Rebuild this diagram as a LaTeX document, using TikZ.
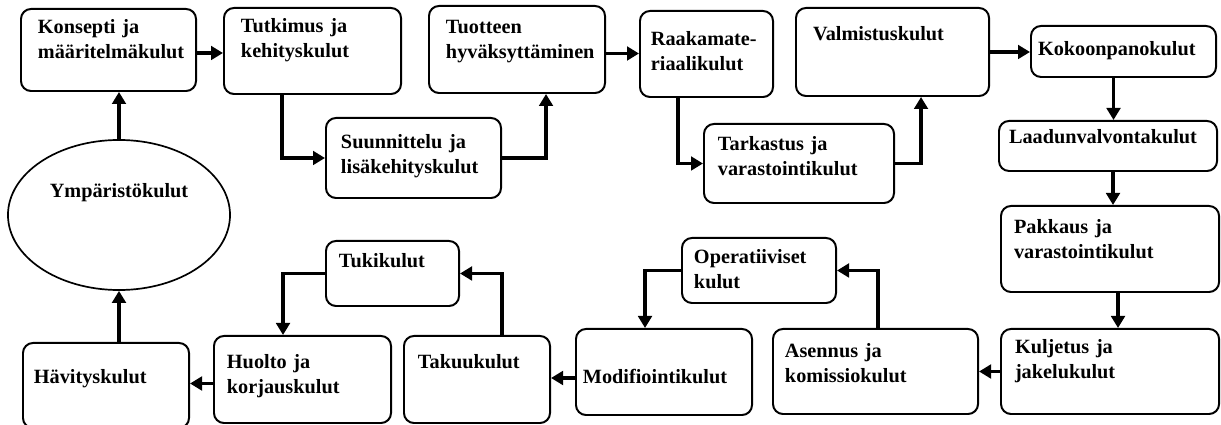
\documentclass[tikz,border=0pt]{standalone}
\usepackage{fontspec}
\setmainfont{Liberation Serif}
\usetikzlibrary{arrows.meta, shapes.geometric, calc}
\hyphenpenalty=10000

\begin{document}
\begin{tikzpicture}[
    x=0.025cm, y=-0.025cm,
    >={Triangle[length=0.3cm, width=0.34cm]},
    font=\fontsize{14.4pt}{17.1pt}\selectfont\bfseries,
    cost/.style={
        draw, line width=1.4pt, rounded corners=0.25cm, fill=white,
        anchor=north west, align=left, inner ysep=0pt
    },
    env/.style={
        draw, ellipse, line width=1.2pt, minimum width=5.55cm, minimum height=3.75cm,
        inner sep=0pt, text height=0.35cm, text depth=1.2cm
    },
    arrow/.style={draw, line width=2.6pt, ->}
]
\useasboundingbox (0,0) rectangle (1221,425);

% ==========================================
% TOP ROW: DEVELOPMENT & PRODUCTION
% ==========================================

\node[cost, inner xsep=0.425cm, text width=3.525cm, text height=0.625cm, text depth=1.425cm]
    (konsepti) at (20,8) {Konsepti ja \\ määritelmäkulut};
\node[cost, inner xsep=0.425cm, text width=3.575cm, text height=0.625cm, text depth=1.525cm]
    (tutkimus) at (223,7) {Tutkimus ja \\ kehityskulut};
\node[cost, inner xsep=0.375cm, text width=3.625cm, text height=0.775cm, text depth=1.225cm]
    (suunnittelu) at (325,117) {Suunnittelu ja \\ lisäkehityskulut};
\node[cost, inner xsep=0.425cm, text width=3.55cm, text height=0.7cm, text depth=1.475cm]
    (tuotteen) at (428,5) {Tuotteen \\ hyväksyttäminen};
\node[cost, inner xsep=0.275cm, text width=2.775cm, text height=0.875cm, text depth=1.275cm]
    (raaka) at (639,10) {Raakamate- \\ riaalikulut};
\node[cost, inner xsep=0.35cm, text width=4.05cm, text height=0.675cm, text depth=1.3cm]
    (tarkastus) at (703,123) {Tarkastus ja \\ varastointikulut};
\node[cost, inner xsep=0.425cm, text width=3.975cm, text height=0.825cm, text depth=1.375cm]
    (valmistus) at (795,7) {Valmistuskulut};

% ==========================================
% RIGHT COLUMN
% ==========================================

\node[cost, inner xsep=0.175cm, text width=4.275cm, text height=0.75cm, text depth=0.525cm]
    (kokoonpano) at (1030,25) {Kokoonpanokulut};
\node[cost, inner xsep=0.25cm, text width=4.95cm, text height=0.575cm, text depth=0.675cm]
    (laadun) at (998,120) {Laadunvalvontakulut};
\node[cost, inner xsep=0.325cm, text width=4.8cm, text height=0.7cm, text depth=1.45cm]
    (pakkaus) at (1000,205) {Pakkaus ja \\ varastointikulut};
\node[cost, inner xsep=0.35cm, text width=4.75cm, text height=0.625cm, text depth=1.5cm]
    (kuljetus) at (1000,328) {Kuljetus ja \\ jakelukulut};

% ==========================================
% BOTTOM ROW: USE & END OF LIFE
% ==========================================

\node[cost, inner xsep=0.3cm, text width=4.525cm, text height=0.725cm, text depth=1.4cm]
    (asennus) at (772,328) {Asennus ja \\ komissiokulut};
\node[cost, inner xsep=0.3cm, text width=3.25cm, text height=0.65cm, text depth=0.975cm]
    (operatiiviset) at (681,237) {Operatiiviset \\ kulut};
\node[cost, inner xsep=0.175cm, text width=4.05cm, text height=1.375cm, text depth=0.775cm]
    (modifiointi) at (575,328) {Modifiointikulut};
\node[cost, inner xsep=0.35cm, text width=2.95cm, text height=0.825cm, text depth=1.35cm]
    (takuu) at (403,335) {Takuukulut};
\node[cost, inner xsep=0.325cm, text width=2.675cm, text height=0.675cm, text depth=0.95cm]
    (tukikulut) at (325,240) {Tukikulut};
\node[cost, inner xsep=0.325cm, text width=3.775cm, text height=0.825cm, text depth=1.35cm]
    (huolto) at (213,335) {Huolto ja \\ korjauskulut};
\node[cost, inner xsep=0.275cm, text width=3.6cm, text height=1.025cm, text depth=1.1cm]
    (havitys) at (22,342) {Hävityskulut};

\node[env] (ymparisto) at (119,215) {Ympäristökulut};

% ==========================================
% CONNECTIONS
% ==========================================

\draw[arrow] ([yshift=-0.075cm]konsepti.east) -- ([yshift=-0.075cm]konsepti.east -| tutkimus.west);
\draw[arrow] ([xshift=1.475cm]tutkimus.south west) |- (suunnittelu.west);
\draw[arrow] (suunnittelu.east) -| ([xshift=2.95cm]tuotteen.south west);
\draw[arrow] ([yshift=-0.1cm]tuotteen.east) -- ([yshift=-0.1cm]tuotteen.east -| raaka.west);
\draw[arrow] ([xshift=0.975cm]raaka.south west) |- (tarkastus.west);
\draw[arrow] (tarkastus.east) -| ([xshift=3.15cm]valmistus.south west);
\draw[arrow] (valmistus.east) -- (valmistus.east -| kokoonpano.west);

\draw[arrow] ([xshift=-0.25cm]kokoonpano.south) -- ([xshift=-0.25cm]kokoonpano.south |- laadun.north);
\draw[arrow] ([xshift=0.125cm]laadun.south) -- ([xshift=0.125cm]laadun.south |- pakkaus.north);
\draw[arrow] ([xshift=0.2cm]pakkaus.south) -- ([xshift=0.2cm]pakkaus.south |- kuljetus.north);

\draw[arrow] (kuljetus.west) -- (kuljetus.west -| asennus.east);
\draw[arrow] ([xshift=0.0625cm]asennus.north) |- (operatiiviset.east);
\draw[arrow] (operatiiviset.west) -| ([xshift=1.75cm]modifiointi.north west);
\draw[arrow] ([yshift=-0.15cm]modifiointi.west) -- ([yshift=-0.15cm]modifiointi.west -| takuu.east);
\draw[arrow] ([xshift=2.475cm]takuu.north west) |- (tukikulut.east);
\draw[arrow] (tukikulut.west) -| ([xshift=1.75cm]huolto.north west);
\draw[arrow] ([yshift=-0.1cm]huolto.west) -- ([yshift=-0.1cm]huolto.west -| havitys.east);
\draw[arrow] (havitys.north -| ymparisto.south) -- (ymparisto.south);
\draw[arrow] (ymparisto.north) -- (ymparisto.north |- konsepti.south);

\end{tikzpicture}
\end{document}
